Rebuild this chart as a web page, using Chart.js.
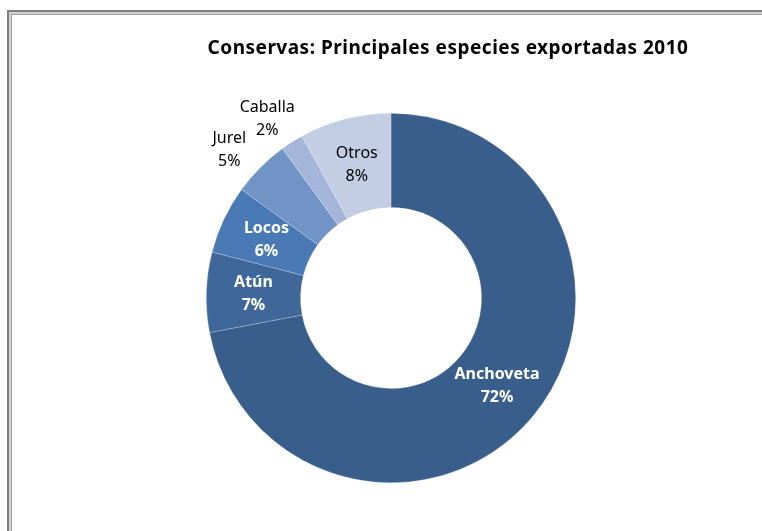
<!DOCTYPE html>
<html>
<head>
<meta charset="utf-8">
<script src="https://cdn.jsdelivr.net/npm/chart.js@4"></script>
<style>
  html, body { margin: 0; padding: 0; background: #fff; }
  #wrap { position: relative; width: 762px; height: 531px; overflow: hidden; }
  .fr { position: absolute; box-sizing: border-box; pointer-events: none; border-style: solid; border-right: 0; border-bottom: 0; }
  #f1 { left: 7px;  top: 10px; width: 800px; height: 600px; border-width: 2px; border-color: #7f7f7f; }
  #f2 { left: 9px;  top: 12px; width: 800px; height: 600px; border-width: 2px; border-color: #d0d0d0; }
  #f3 { left: 11px; top: 14px; width: 800px; height: 600px; border-width: 1px; border-color: #9c9c9c; }
  canvas { position: absolute; left: 0; top: 0; }
</style>
</head>
<body>
<div id="wrap">
  <canvas id="chart" width="762" height="531"></canvas>
  <div class="fr" id="f1"></div>
  <div class="fr" id="f2"></div>
  <div class="fr" id="f3"></div>
</div>
<script>
// ── DATA ──────────────────────────────────────────────────────────────────
const TITLE   = 'Conservas: Principales especies exportadas 2010';
const SPECIES = ['Anchoveta', 'Atún', 'Locos', 'Jurel', 'Caballa', 'Otros'];
const SHARES  = [72, 7, 6, 5, 2, 8];

// ── STYLE ─────────────────────────────────────────────────────────────────
const COLORS      = ['#3A5E8C', '#3F679A', '#4A7AB6', '#7293C5', '#A3B5D9', '#C3CDE3'];
const LABEL_COLOR = ['#FFFFFF', '#FFFFFF', '#FFFFFF', '#000000', '#000000', '#000000'];
const LABEL_BOLD  = [true, true, true, false, false, false];
const LABEL_OUT   = [false, false, false, true, true, false];
const FONT = "'Noto Sans', sans-serif";

const sliceLabels = {
  id: 'sliceLabels',
  afterDatasetsDraw(chart) {
    const { ctx } = chart;
    const meta = chart.getDatasetMeta(0);
    ctx.save();
    ctx.textAlign = 'center';
    ctx.textBaseline = 'middle';
    meta.data.forEach((arc, i) => {
      const p = arc.getProps(['x', 'y', 'startAngle', 'endAngle', 'innerRadius', 'outerRadius'], true);
      const mid = (p.startAngle + p.endAngle) / 2;
      const r = LABEL_OUT[i] ? p.outerRadius * 1.2 : (p.innerRadius + p.outerRadius) / 2;
      const x = p.x + Math.cos(mid) * r - (LABEL_OUT[i] ? 5 : 0);
      const y = p.y + Math.sin(mid) * r + (LABEL_OUT[i] ? 8 : 0);
      ctx.fillStyle = LABEL_COLOR[i];
      ctx.font = (LABEL_BOLD[i] ? 'bold ' : '') + '16px ' + FONT;
      ctx.fillText(SPECIES[i], x, y - 11);
      ctx.fillText(SHARES[i] + '%', x, y + 12);
    });
    // title
    ctx.fillStyle = '#000';
    ctx.font = 'bold 19px ' + FONT;
    ctx.letterSpacing = '0.5px';
    ctx.fillText(TITLE, 448, 49);
    ctx.restore();
  }
};

new Chart(document.getElementById('chart'), {
  type: 'doughnut',
  data: {
    labels: SPECIES,
    datasets: [{
      data: SHARES,
      backgroundColor: COLORS,
      borderColor: 'rgba(255,255,255,0.35)',
      borderWidth: 0.6,
    }]
  },
  options: {
    responsive: false,
    animation: false,
    cutout: '49%',
    layout: { padding: { left: 206, right: 186, top: 113, bottom: 48 } },
    plugins: {
      legend: { display: false },
      tooltip: { enabled: false },
      title: { display: false }
    }
  },
  plugins: [sliceLabels]
});
</script>
</body>
</html>
